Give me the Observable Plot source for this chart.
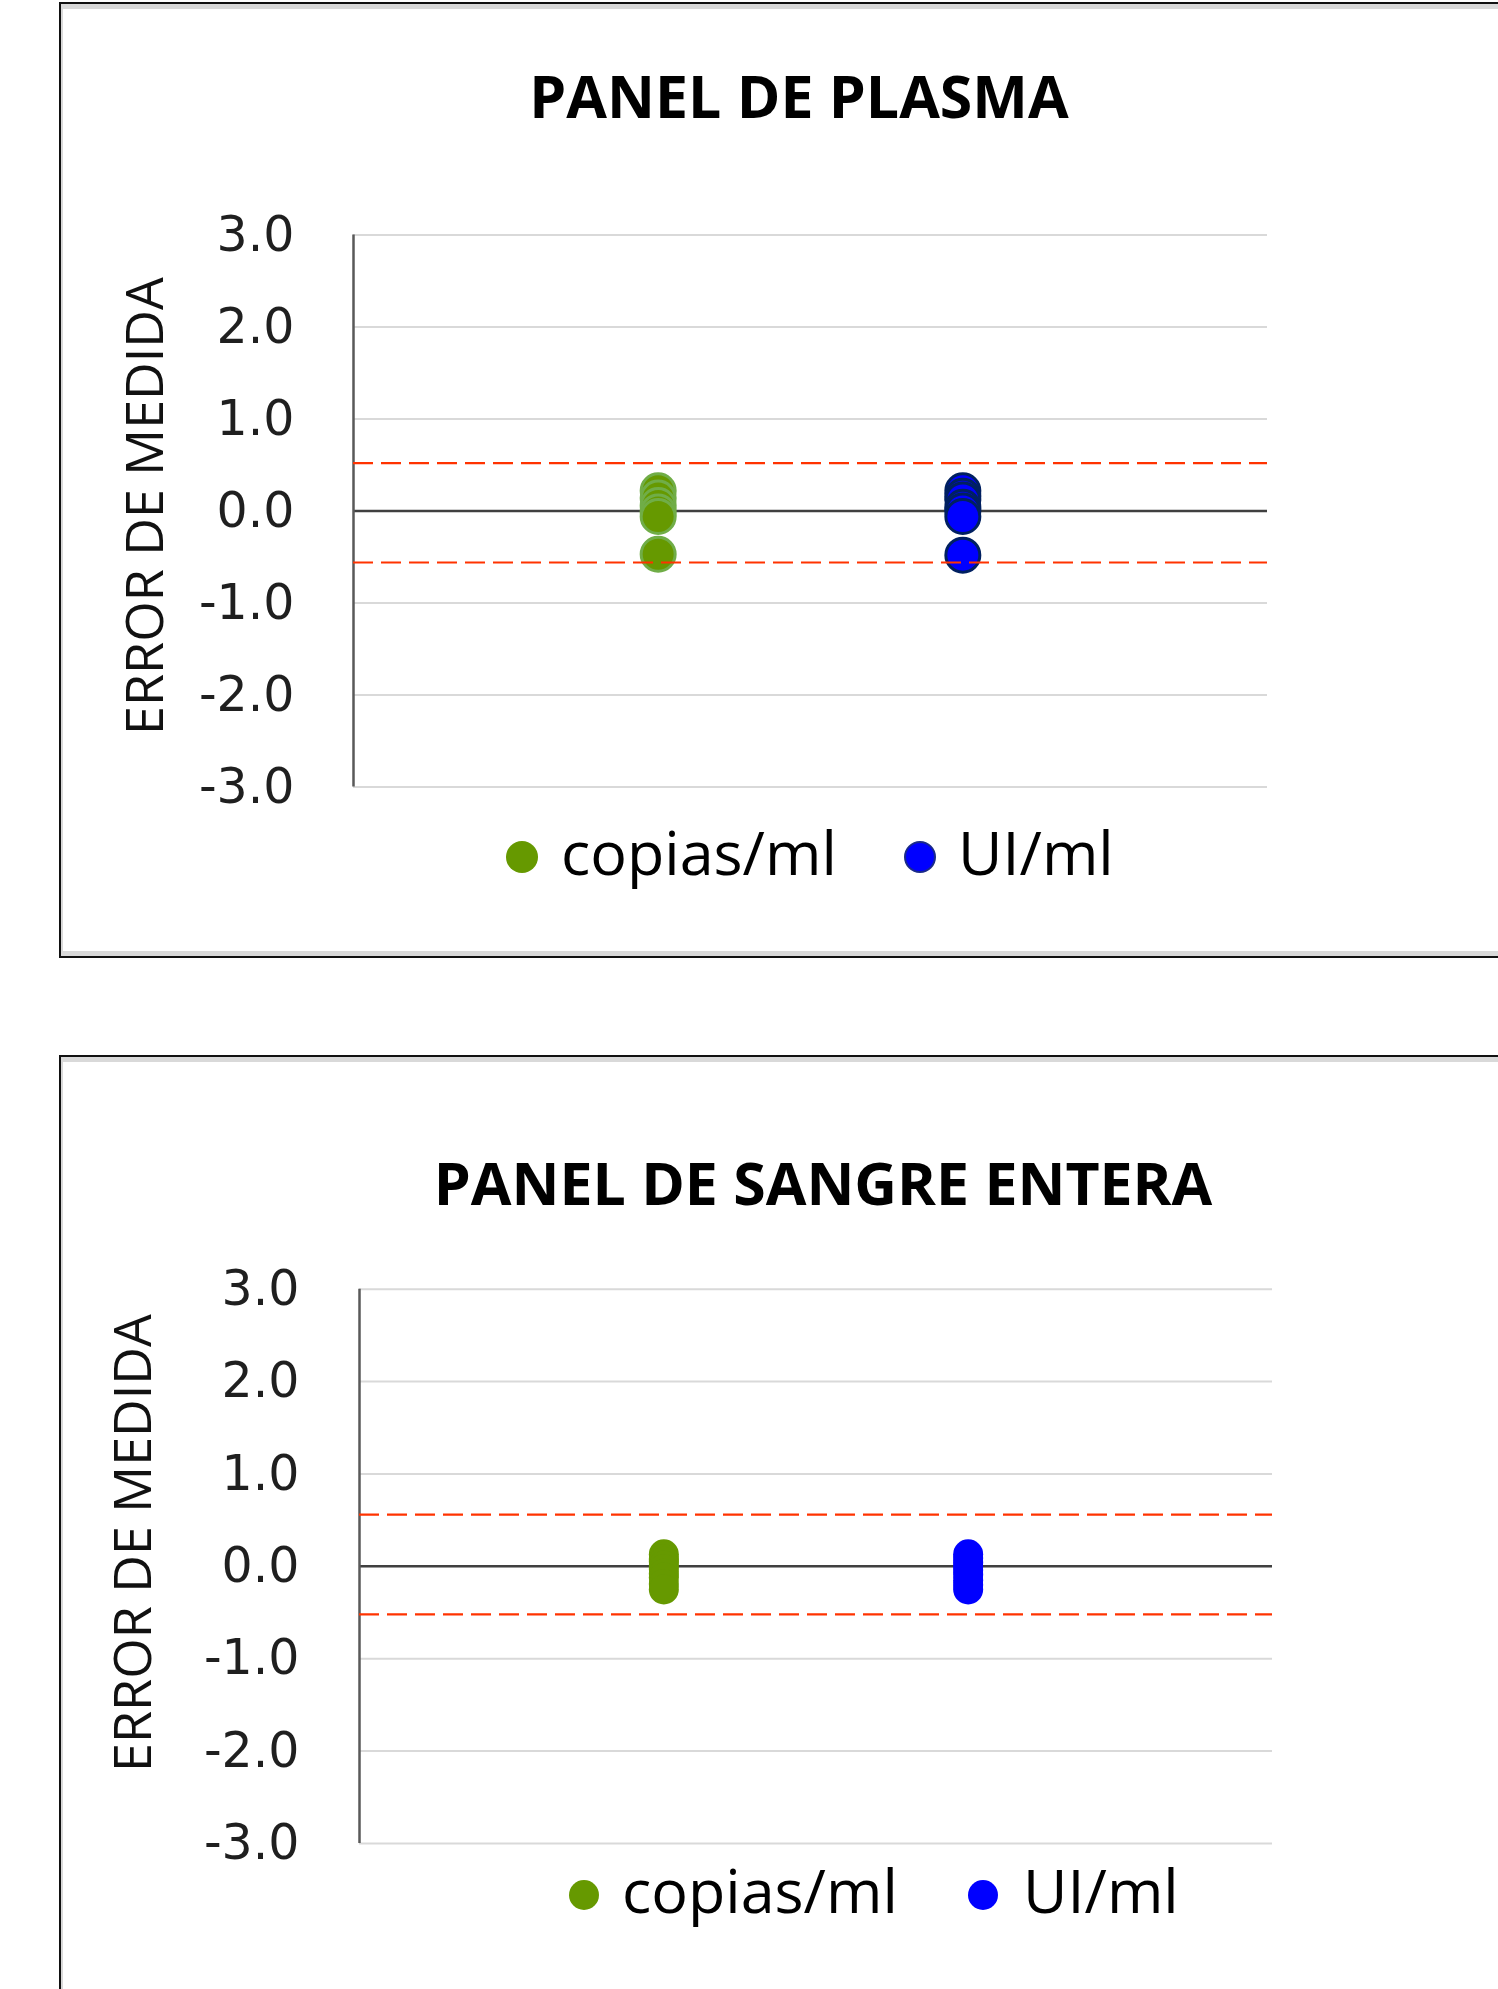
<!DOCTYPE html>
<html>
<head>
<meta charset="utf-8">
<script src="https://cdn.jsdelivr.net/npm/d3@7"></script>
<script src="https://cdn.jsdelivr.net/npm/@observablehq/plot@0.6"></script>
<style>
  html, body { margin: 0; padding: 0; background: #fff; }
  body { width: 1498px; height: 1989px; position: relative; overflow: hidden; font-family: 'Open Sans', sans-serif; }
  .panel { position: absolute; box-sizing: border-box; border: 2px solid #111;
           box-shadow: inset 0 5px 0 #d9d9d9, inset 0 -5px 0 #d9d9d9, inset 2px 0 0 #d9d9d9; background: #fff; }
  .abs { position: absolute; white-space: nowrap; color: #000; }
  .plotwrap { position: absolute; left: 0; }
  .mk { position: absolute; border-radius: 50%; box-sizing: border-box; }
</style>
</head>
<body>
<script>
// ---------------- DATA ----------------
const categories = ["copias/ml", "UI/ml"];
const yTicks = [-3, -2, -1, 0, 1, 2, 3];

const plasmaTitle = "PANEL DE PLASMA";
const plasmaCopias = [0.22, 0.14, 0.06, -0.01, -0.06, -0.47];
const plasmaUI = [0.22, 0.16, 0.12, 0.04, 0.0, -0.06, -0.48];
const plasmaLimits = [0.52, -0.56];

const sangreTitle = "PANEL DE SANGRE ENTERA";
const sangreCopias = [0.13, 0.08, 0.05, 0.01, -0.03, -0.08, -0.12, -0.19, -0.25];
const sangreUI = [0.13, 0.09, 0.04, 0.0, -0.04, -0.09, -0.15, -0.2, -0.25];
const sangreLimits = [0.56, -0.52];

const yLabel = "ERROR DE MEDIDA";

// ---------------- HELPERS ----------------
function el(cls, parent = document.body) {
  const d = document.createElement("div");
  d.className = cls;
  parent.appendChild(d);
  return d;
}
function textAt(txt, x, baseline, size, opts = {}) {
  const d = el("abs");
  d.textContent = txt;
  Object.assign(d.style, {
    left: x + "px",
    top: (baseline - 0.888 * size) + "px",
    fontSize: size + "px",
    lineHeight: size + "px",
    fontWeight: opts.weight || 400,
    transform: opts.anchor === "middle" ? "translateX(-50%)" : "none"
  });
  return d;
}
function rotatedLabel(txt, cx, cy, size) {
  const d = el("abs");
  d.textContent = txt;
  Object.assign(d.style, {
    left: cx + "px", top: cy + "px", fontSize: size + "px", lineHeight: size + "px",
    transform: "translate(-50%,-50%) rotate(-90deg)", color: "#111"
  });
}
function marker(cx, cy, r, fill, stroke) {
  const d = el("mk");
  Object.assign(d.style, {
    left: (cx - r) + "px", top: (cy - r) + "px", width: 2 * r + "px", height: 2 * r + "px",
    background: fill, border: stroke ? `2px solid ${stroke}` : "none"
  });
}

function makePlot({top, height, marginTop, marginBottom, marginLeft, marginRight, tickPadding,
                   seriesA, seriesB, limits, r, styleA, styleB}) {
  const rows = [];
  seriesA.forEach(v => rows.push({cat: categories[0], xi: 1, v}));
  const rowsB = [];
  seriesB.forEach(v => rowsB.push({cat: categories[1], xi: 2, v}));
  const chart = Plot.plot({
    width: 1498,
    height,
    marginTop, marginBottom, marginLeft, marginRight,
    x: {type: "linear", domain: [0, categories.length + 1], axis: null},
    y: {domain: [-3, 3]},
    style: {background: "transparent", overflow: "visible"},
    marks: [
      Plot.gridY(yTicks, {stroke: "#d9d9d9", strokeOpacity: 1, strokeWidth: 2}),
      Plot.ruleY([0], {stroke: "#404040", strokeWidth: 2.5}),
      Plot.ruleX([0], {stroke: "#595959", strokeWidth: 2.5}),
      Plot.axisY(yTicks, {
        tickSize: 0, tickPadding, label: null,
        tickFormat: d => d.toFixed(1),
        fontSize: 49, fontFamily: "DejaVu Sans", fill: "#1f1f1f"
      }),
      Plot.dot(rows, {x: "xi", y: "v", r, ...styleA}),
      Plot.dot(rowsB, {x: "xi", y: "v", r, ...styleB}),
      Plot.ruleY(limits, {stroke: "#ff3300", strokeWidth: 2.2, strokeDasharray: "20,8"})
    ]
  });
  const w = el("plotwrap");
  w.style.top = top + "px";
  w.appendChild(chart);
}

// ---------------- PANEL 1 ----------------
const p1 = el("panel");
Object.assign(p1.style, {left: "59px", top: "2px", width: "1500px", height: "956px"});
textAt(plasmaTitle, 799, 118, 59, {weight: 700, anchor: "middle"});
rotatedLabel(yLabel, 143, 506, 52);
makePlot({
  top: 200, height: 620, marginTop: 34.6, marginBottom: 33.6, marginLeft: 353, marginRight: 231,
  tickPadding: 59, seriesA: plasmaCopias, seriesB: plasmaUI, limits: plasmaLimits, r: 17,
  styleA: {fill: "#669900", stroke: "#70ad47", strokeWidth: 3},
  styleB: {fill: "#0000ff", stroke: "#002060", strokeWidth: 3}
});
marker(522, 857, 16, "#669900");
textAt(categories[0], 561, 875, 61);
marker(920, 857, 16, "#0000ff", "#1a2a8a");
textAt(categories[1], 958, 875, 61);

// ---------------- PANEL 2 ----------------
const p2 = el("panel");
Object.assign(p2.style, {left: "59px", top: "1055px", width: "1500px", height: "1000px"});
textAt(sangreTitle, 823, 1205, 59, {weight: 700, anchor: "middle"});
rotatedLabel(yLabel, 131, 1543, 52);
makePlot({
  top: 1250, height: 630, marginTop: 38.7, marginBottom: 37, marginLeft: 359, marginRight: 226,
  tickPadding: 60, seriesA: sangreCopias, seriesB: sangreUI, limits: sangreLimits, r: 15,
  styleA: {fill: "#669900"},
  styleB: {fill: "#0000ff"}
});
marker(584, 1895, 15, "#669900");
textAt(categories[0], 622, 1913, 61);
marker(983, 1895, 15, "#0000ff");
textAt(categories[1], 1023, 1913, 61);
</script>
</body>
</html>
